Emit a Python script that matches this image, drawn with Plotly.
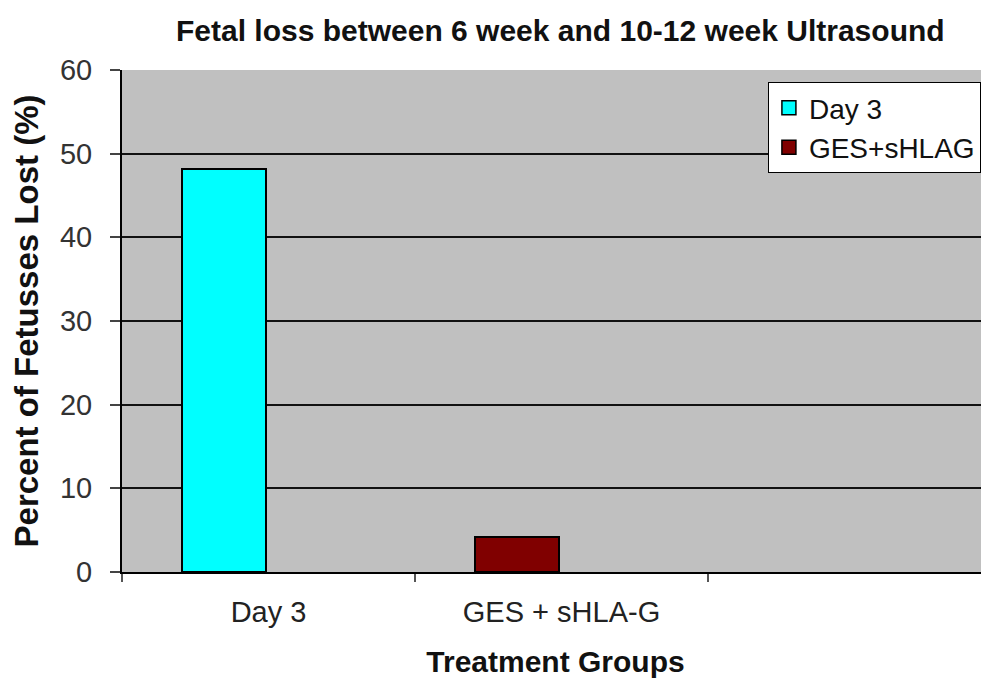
import plotly.graph_objects as go

categories = ["Day 3", "GES + sHLA-G", " "]
series_names = ["Day 3", "GES+sHLAG"]
day3_values = [48.2, None, None]
ges_values = [None, 4.2, None]
colors = ["#00FFFF", "#800000"]
y_ticks = [0, 10, 20, 30, 40, 50, 60]

FONT = "Liberation Sans, Arial, sans-serif"

fig = go.Figure()
for name, vals, col in zip(series_names, [day3_values, ges_values], colors):
    fig.add_trace(go.Bar(
        x=categories, y=vals, name=name, showlegend=False,
        marker=dict(color=col, line=dict(color="black", width=2)),
        width=0.287, offset=-0.295,
    ))
    fig.add_trace(go.Scatter(
        x=[None], y=[None], mode="markers", name=name,
        marker=dict(symbol="square", size=14, color=col,
                    line=dict(color="black", width=1.5)),
    ))

fig.update_layout(
    width=981, height=670,
    margin=dict(l=114, r=0, t=62, b=106),
    paper_bgcolor="white", plot_bgcolor="#C0C0C0",
    font=dict(family=FONT, size=28, color="#222222"),
    title=dict(text="<b>Fetal loss between 6 week and 10-12 week Ultrasound</b>",
               x=0.563, xanchor="center", y=0.967, yanchor="middle",
               font=dict(size=30, color="#111111")),
    showlegend=True,
    legend=dict(x=0.745, xanchor="left", y=0.976, yanchor="top",
                bgcolor="white", bordercolor="black", borderwidth=1,
                font=dict(size=28, color="#111111"),
                itemwidth=30, tracegroupgap=0),
    bargap=0,
)
fig.update_xaxes(
    type="category", categoryorder="array", categoryarray=categories,
    range=[-0.5, 2.459], tickson="boundaries", ticks="outside", ticklen=8,
    tickcolor="#555555", tickwidth=2, showgrid=False, ticklabelstandoff=13,
    showline=True, linecolor="black", linewidth=2,
    title=dict(text="<b>Treatment Groups</b>", standoff=24,
               font=dict(size=30, color="#111111")),
    tickfont=dict(size=29, color="#222222"),
)
fig.update_yaxes(
    range=[0, 60], tickvals=y_ticks, ticks="outside", ticklen=10,
    tickcolor="#444444", tickwidth=2, ticklabelstandoff=12,
    showgrid=True, gridcolor="#111111", gridwidth=1.5,
    showline=True, linecolor="black", linewidth=2, zeroline=False,
    title=dict(text="<b>Percent of Fetusses Lost (%)</b>", standoff=12,
               font=dict(size=33, color="#111111")),
    tickfont=dict(size=29, color="#333333"),
)
fig.write_html("out.html")
